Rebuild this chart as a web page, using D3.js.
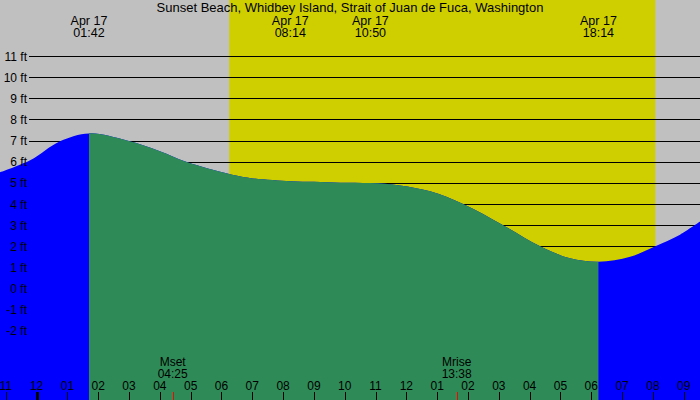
<!DOCTYPE html>
<html>
<head>
<meta charset="utf-8">
<script src="https://cdn.jsdelivr.net/npm/d3@7"></script>
<style>
  html, body { margin: 0; padding: 0; background: #c0c0c0; }
  svg { display: block; }
  text { font-family: "Liberation Sans", Arial, sans-serif; fill: #000; }
</style>
</head>
<body>
<svg id="chart" width="700" height="400"></svg>
<script>
// ---- data ----
const title = "Sunset Beach, Whidbey Island, Strait of Juan de Fuca, Washington";
// hours relative to midnight Apr 17
const tideHours = [-1.19, -0.21, 0.76, 1.70, 2.93, 4.00, 4.85, 6.25, 6.92, 8.23, 9.00, 9.85, 10.83, 11.79, 12.77, 13.84, 15.14, 16.34, 17.31, 18.23, 19.26, 20.08, 20.88, 21.53];
const tideFeet  = [5.50, 6.07, 6.97, 7.34, 7.00, 6.50, 6.00, 5.42, 5.23, 5.08, 5.05, 5.01, 4.99, 4.88, 4.60, 4.00, 3.00, 2.00, 1.43, 1.27, 1.50, 2.00, 2.55, 3.17];
const extremeHours = [1.70, 8.233, 10.833, 18.233];
const extremeDates = ["Apr 17", "Apr 17", "Apr 17", "Apr 17"];
const extremeTimes = ["01:42", "08:14", "10:50", "18:14"];
const sunriseHour = 6.25, sunsetHour = 20.08;
const moonHours = [4.417, 13.633];
const moonNames = ["Mset", "Mrise"];
const moonTimes = ["04:25", "13:38"];
const footTicks = [-2, -1, 0, 1, 2, 3, 4, 5, 6, 7, 8, 9, 10, 11];
const footLabels = ["-2 ft", "-1 ft", "0 ft", "1 ft", "2 ft", "3 ft", "4 ft", "5 ft", "6 ft", "7 ft", "8 ft", "9 ft", "10 ft", "11 ft"];
const hourTicks = [-1, 0, 1, 2, 3, 4, 5, 6, 7, 8, 9, 10, 11, 12, 13, 14, 15, 16, 17, 18, 19, 20, 21];
const hourLabels = ["11", "12", "01", "02", "03", "04", "05", "06", "07", "08", "09", "10", "11", "12", "01", "02", "03", "04", "05", "06", "07", "08", "09"];

// ---- layout ----
const W = 700, H = 400;
const svg = d3.select("#chart");
const x = d3.scaleLinear().domain([-1.1878, 21.529]).range([0, W]);
const y = d3.scaleLinear().domain([-5.27, 13.65]).range([H, 0]);

// background
svg.append("rect").attr("x", 0).attr("y", 0).attr("width", W).attr("height", H).attr("fill", "#c0c0c0");
svg.append("rect").attr("x", x(sunriseHour)).attr("y", 0)
  .attr("width", x(sunsetHour) - x(sunriseHour)).attr("height", H).attr("fill", "#cfcf00");

// grid lines
svg.append("g").selectAll("line").data(footTicks).join("line")
  .attr("x1", 29).attr("x2", W)
  .attr("y1", d => Math.round(y(d)) + 0.5).attr("y2", d => Math.round(y(d)) + 0.5)
  .attr("stroke", "#000").attr("stroke-width", 1);

// tide area
const tide = tideHours.map((h, i) => [h, tideFeet[i]]);
const area = d3.area().x(d => x(d[0])).y0(H).y1(d => y(d[1])).curve(d3.curveCatmullRom.alpha(0.5));
const defs = svg.append("defs");
defs.append("clipPath").attr("id", "fallClip").append("rect")
  .attr("x", x(extremeHours[0])).attr("y", 0)
  .attr("width", x(extremeHours[3]) - x(extremeHours[0])).attr("height", H);
svg.append("path").datum(tide).attr("d", area).attr("fill", "#0000ff");
svg.append("path").datum(tide).attr("d", area).attr("fill", "#2e8b57").attr("clip-path", "url(#fallClip)");

// foot labels
svg.append("g").selectAll("text").data(footTicks).join("text")
  .attr("x", 27).attr("y", d => y(d) + 4.5)
  .attr("text-anchor", "end").attr("font-size", 12)
  .text((d, i) => footLabels[i]);

// title
svg.append("text").attr("x", 350).attr("y", 12).attr("text-anchor", "middle")
  .attr("font-size", 13).text(title);

// extreme labels
const ex = svg.append("g").selectAll("g").data(extremeHours).join("g");
ex.append("text").attr("x", d => x(d)).attr("y", 24.5).attr("text-anchor", "middle")
  .attr("font-size", 12.5).text((d, i) => extremeDates[i]);
ex.append("text").attr("x", d => x(d)).attr("y", 36.5).attr("text-anchor", "middle")
  .attr("font-size", 12.5).text((d, i) => extremeTimes[i]);

// hour axis
const ax = svg.append("g");
ax.selectAll("line").data(hourTicks).join("line")
  .attr("x1", d => Math.round(x(d)) + 0.5).attr("x2", d => Math.round(x(d)) + 0.5)
  .attr("y1", 392).attr("y2", H)
  .attr("stroke", "#000").attr("stroke-width", d => d === 0 ? 3 : 1);
ax.selectAll("text").data(hourTicks).join("text")
  .attr("x", d => x(d)).attr("y", 390).attr("text-anchor", "middle")
  .attr("font-size", 12).text((d, i) => hourLabels[i]);

// moon events
const mo = svg.append("g").selectAll("g").data(moonHours).join("g");
mo.append("line").attr("x1", d => Math.round(x(d)) + 0.5).attr("x2", d => Math.round(x(d)) + 0.5)
  .attr("y1", 392).attr("y2", H).attr("stroke", "#ff0000").attr("stroke-width", 1);
mo.append("text").attr("x", d => x(d)).attr("y", 366).attr("text-anchor", "middle")
  .attr("font-size", 12).text((d, i) => moonNames[i]);
mo.append("text").attr("x", d => x(d)).attr("y", 377.5).attr("text-anchor", "middle")
  .attr("font-size", 12).text((d, i) => moonTimes[i]);
</script>
</body>
</html>
